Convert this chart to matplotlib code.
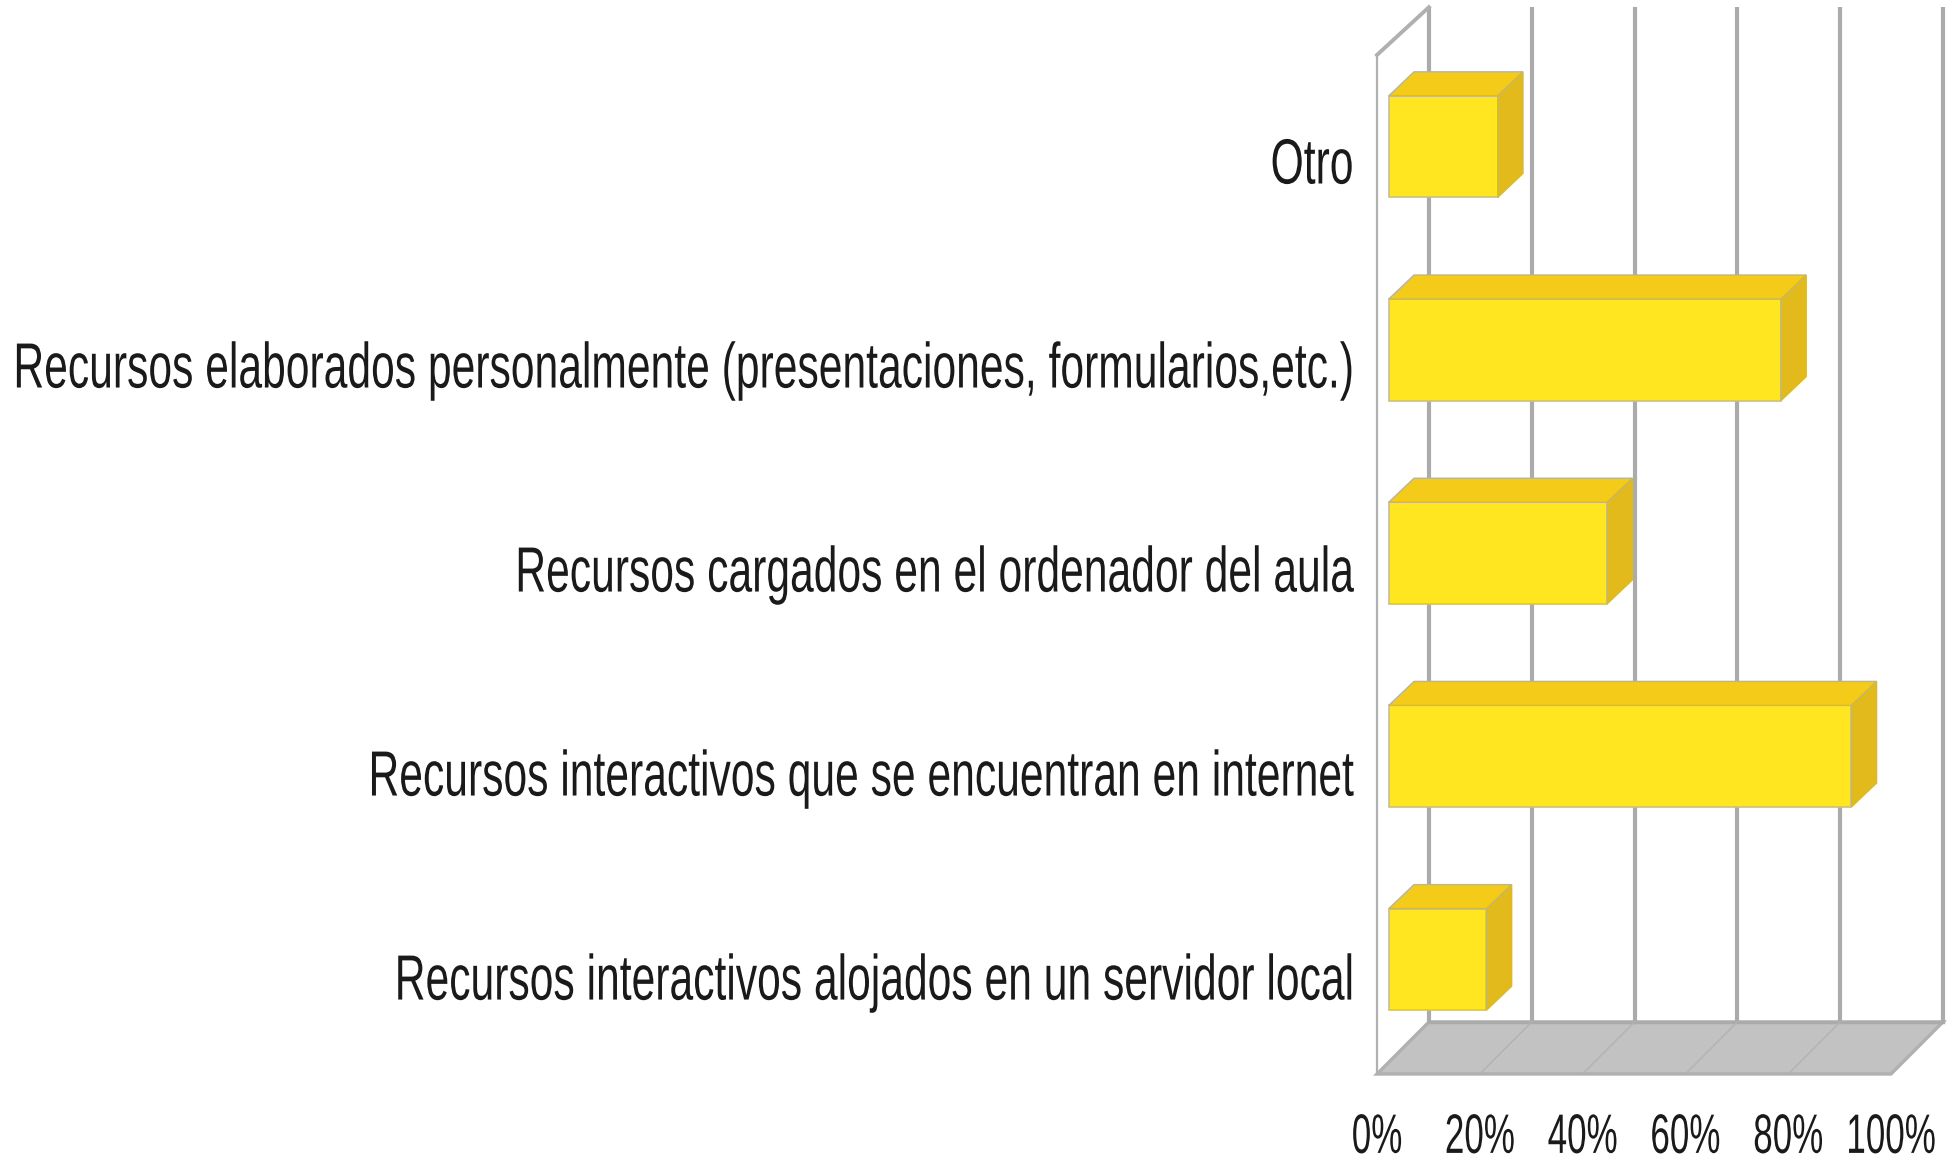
import numpy as np
import matplotlib
matplotlib.use("Agg")
import matplotlib.pyplot as plt
from matplotlib.patheffects import AbstractPathEffect
from matplotlib.transforms import Affine2D

categories = ['Recursos interactivos alojados en un servidor local',
              'Recursos interactivos que se encuentran en internet',
              'Recursos cargados en el ordenador del aula',
              'Recursos elaborados personalmente (presentaciones, formularios,etc.)',
              'Otro']
values = [19, 90, 42.5, 76.3, 21.2]
xticks = [0, 20, 40, 60, 80, 100]


# the original uses a condensed font, none is installed so squeeze the glyphs
class Squeeze(AbstractPathEffect):
    def __init__(self, text, sx, anchor):
        super().__init__()
        self.text = text
        self.sx = sx
        self.anchor = anchor

    def draw_path(self, renderer, gc, tpath, affine, rgbFace=None):
        box = self.text.get_window_extent(renderer)
        x0 = box.x1 if self.anchor == 'right' else (box.x0 + box.x1) / 2
        squeeze = Affine2D().translate(-x0, 0).scale(self.sx, 1).translate(x0, 0)
        renderer.draw_path(gc, tpath, affine + squeeze, rgbFace)


W, H = 1954, 1159
fig = plt.figure(figsize=(W / 100, H / 100), dpi=100, facecolor='white')
ax = fig.add_axes([1377 / W, (H - 1074) / H, 514 / W, 1016 / H])
ax.set_xlim(0, 100)
ax.set_ylim(-0.5, 4.5)

# fake 3d offsets, in data units
wall_dx, wall_dy = 10.1, 0.256
wall_top_dy = 0.235
bar_dx, bar_dy = 4.9, 0.118
off_x, off_y = 2.3, 0.064
bar_h = 0.5

grey = '#ababab'
bottom, top = -0.5, 4.515

# floor
ax.fill([0, 100, 100 + wall_dx, wall_dx],
        [bottom, bottom, bottom + wall_dy, bottom + wall_dy],
        facecolor='#c2c2c2', edgecolor='#b0b0b0', lw=2.4, clip_on=False, zorder=1)
for t in xticks[1:-1]:
    ax.plot([t, t + wall_dx], [bottom, bottom + wall_dy], color='#b2b2b2', lw=1, clip_on=False, zorder=1.5)

# back wall lines
for t in xticks:
    ax.plot([t + wall_dx] * 2, [bottom + wall_dy, top + wall_top_dy], color=grey, lw=3,
            clip_on=False, zorder=1.2, solid_capstyle='butt')
ax.plot([wall_dx, 100 + wall_dx], [bottom + wall_dy] * 2, color=grey, lw=2.5, clip_on=False, zorder=1.2)

# left wall
ax.plot([0, 0], [bottom, top], color='#b0b0b0', lw=1.6, clip_on=False, zorder=1.3)
ax.plot([0, wall_dx], [top, top + wall_top_dy], color='#b0b0b0', lw=2.8, clip_on=False, zorder=1.3)

# bars
ypos = np.arange(len(categories))
ax.barh(ypos + off_y, values, height=bar_h, left=off_x, color='#ffe620', edgecolor='#c9c08a', lw=1.2, zorder=3)
for y, v in zip(ypos, values):
    x0, x1 = off_x, off_x + v
    y0, y1 = y + off_y - bar_h / 2, y + off_y + bar_h / 2
    ax.fill([x0, x1, x1 + bar_dx, x0 + bar_dx], [y1, y1, y1 + bar_dy, y1 + bar_dy],
            facecolor='#f5cb1a', edgecolor='#c9b860', lw=1, zorder=3, clip_on=False)
    ax.fill([x1, x1 + bar_dx, x1 + bar_dx, x1], [y0, y0 + bar_dy, y1 + bar_dy, y1],
            facecolor='#e2ba1c', edgecolor='#c9b860', lw=1, zorder=3, clip_on=False)

for s in ax.spines.values():
    s.set_visible(False)
# labels sit on a very slightly wider spacing than the bars
ax.set_yticks(ypos * 1.004 - 0.018)
ax.set_yticklabels(categories, fontfamily='Liberation Sans', fontsize=46, color='#1a1a1a')
ax.set_xticks(xticks)
ax.set_xticklabels([f'{t}%' for t in xticks], fontfamily='Liberation Sans', fontsize=40, color='#1a1a1a')
ax.tick_params(axis='y', length=0, pad=17)
ax.tick_params(axis='x', length=0, pad=28)
for lab in ax.get_yticklabels():
    lab.set_path_effects([Squeeze(lab, 0.667, 'right')])
for lab in ax.get_xticklabels():
    lab.set_path_effects([Squeeze(lab, 0.63, 'center')])

fig.savefig('out.png', dpi=100)
